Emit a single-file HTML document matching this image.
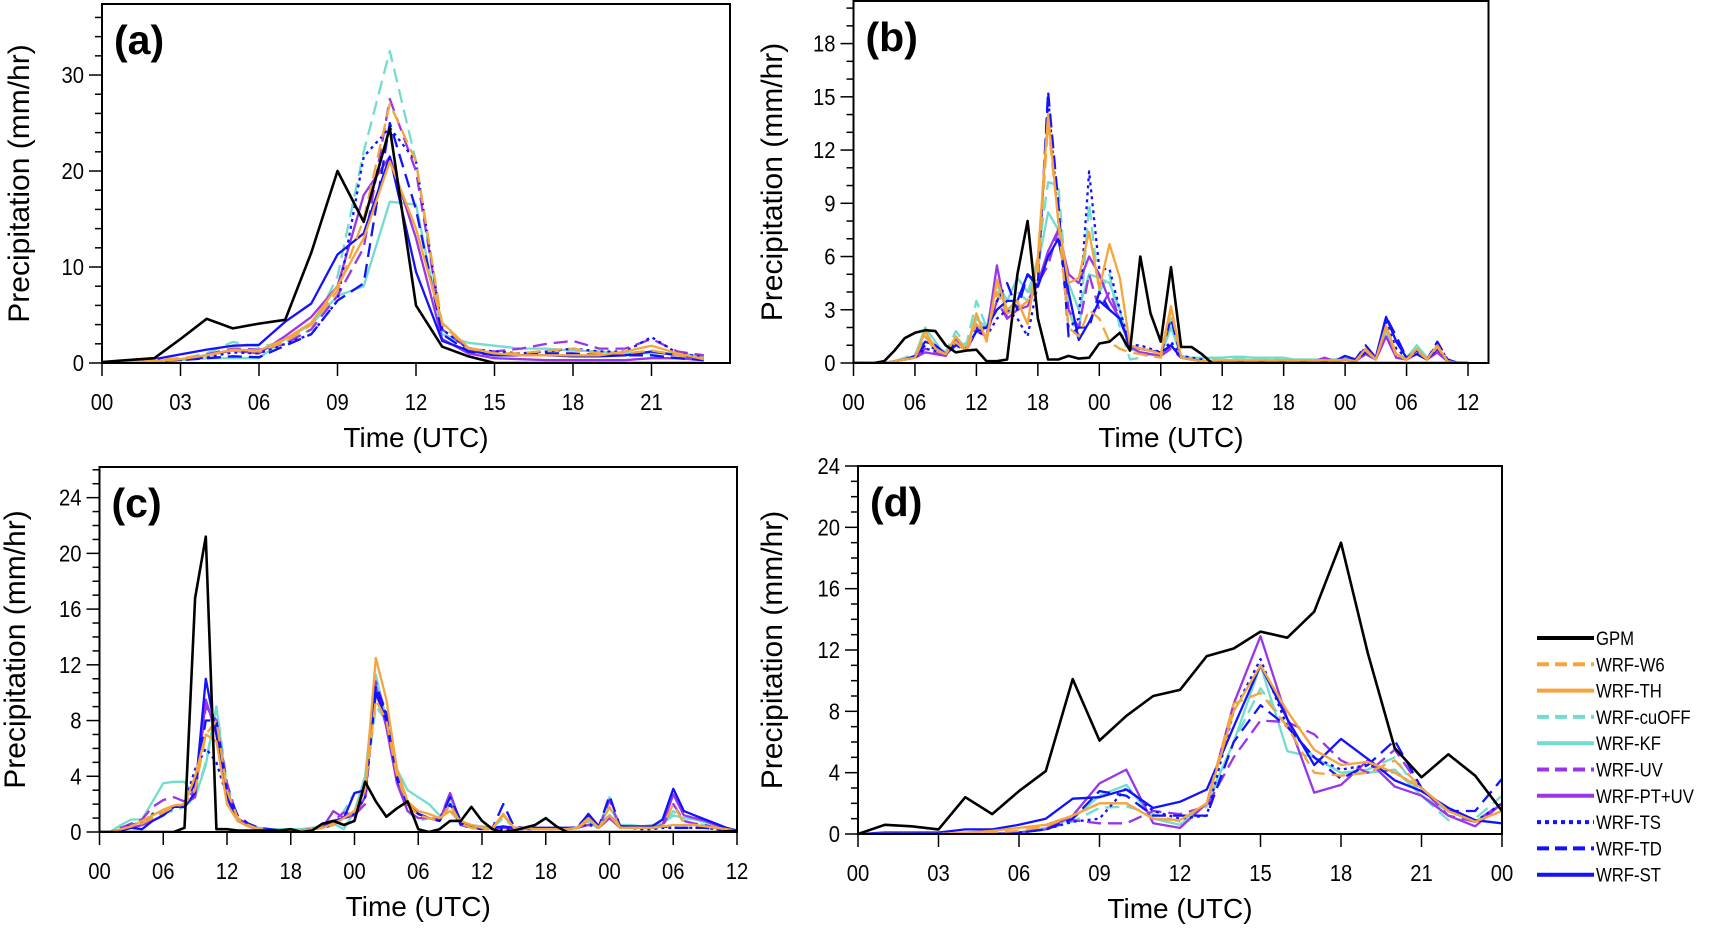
<!DOCTYPE html>
<html><head><meta charset="utf-8"><style>
html,body{margin:0;padding:0;background:#fff;}
svg{display:block;font-family:"Liberation Sans",sans-serif;}
</style></head><body>
<svg id="fig" width="1709" height="928" viewBox="0 0 1709 928" xmlns="http://www.w3.org/2000/svg"></svg>
<script>
// ---------- Panel (a) data (hourly, 0..23) ----------
const aGPM=[0.1,0.3,0.5,2.5,4.6,3.6,4.1,4.5,11.5,20,14.7,24.5,6,1.7,0.7,0,0,0,0,0,0,0,0,0];
const aW6=[0,0.2,0.3,0.5,0.8,1.3,1.2,2.2,4,7.5,15,27,21,4,1.5,1,1,1.3,1.5,1,1,1.3,0.8,0.5];
const aTH=[0,0.1,0.2,0.4,0.8,1.4,1.3,2.5,4.2,8,13,21,14,4.2,1.6,1,0.8,0.8,0.8,0.8,1.2,1.8,1,0.4];
const aCU=[0,0.1,0.2,0.4,1,2.2,1.7,2.2,3.5,9,22,32.5,21,3,1.5,1,1,1.2,1.3,1.2,1,1.2,1,0.6];
const aKF=[0,0.1,0.2,0.3,0.5,0.5,0.5,2.5,4,7,8,16.8,16.5,3,2.1,1.8,1.5,1.5,1.3,1.2,1,1,1,0.7];
const aUV=[0,0.1,0.2,0.4,0.9,1.5,1.4,2,3.5,7,12,27.5,20,3.5,1.5,1.2,1.5,2,2.3,1.5,1.5,2.5,1.2,0.8];
const aPT=[0,0.1,0.2,0.4,0.8,1.3,1.0,2.8,4.8,8,17.5,21.5,13,2.5,1,0.5,0.4,0.3,0.3,0.3,0.3,0.5,0.5,0.3];
const aTS=[0,0.1,0.2,0.3,0.6,1.1,1.0,2,3,6.5,21.5,24.5,21,3.5,1.5,1.2,1,1.2,1.5,1.2,1.2,2.7,1,0.6];
const aTD=[0,0.1,0.2,0.3,0.5,0.7,0.6,1.8,3,6.5,8.3,25,16,3,1.2,0.8,0.8,1,1,0.8,0.8,0.8,0.5,0.3];
const aST=[0,0.2,0.4,0.9,1.4,1.8,1.9,4.3,6.2,11.3,13.5,21.5,9.5,2.3,1.3,0.8,0.8,0.8,0.7,0.7,0.8,1.2,0.8,0.5];
// ---------- Panel (b) data (hourly, 0..60) ----------
const bGPM=[0,0,0,0.1,0.7,1.4,1.7,1.85,1.8,1.0,0.6,0.7,0.75,0.1,0.1,0.2,5,8,2.5,0.2,0.2,0.4,0.25,0.3,1.1,1.2,1.7,0.7,6,2.8,1.2,5.4,0.9,0.9,0.5,0,0,0,0,0,0,0,0,0,0,0,0,0,0,0,0,0,0,0,0,0,0,0,0,0,0];
const bW6=[0,0,0,0,0.1,0.2,0.3,1.5,0.7,0.5,1.2,0.6,2.2,1.5,4,2.8,3,3.5,5,13.5,8,2,1.5,3,2.5,1.2,0.8,0.6,0.5,0.4,0.3,3,0.3,0.2,0.1,0.1,0.1,0.1,0.1,0.1,0.1,0.1,0.1,0.1,0.1,0.1,0.1,0.1,0.2,0.1,0.7,0.2,2,0.4,0.2,0.7,0.2,0.9,0.1,0,0];
const bTH=[0,0,0,0,0.1,0.2,0.3,1.8,0.8,0.5,1.5,0.7,2.8,1.2,4.7,3,3.5,2.2,6,14,8,4.5,4.8,7.4,4.2,6.7,4.8,1,0.8,0.7,0.5,3.2,0.3,0.2,0.1,0.1,0.15,0.15,0.15,0.15,0.15,0.15,0.15,0.15,0.15,0.15,0.15,0.15,0.2,0.1,0.8,0.2,2.1,0.5,0.2,0.8,0.2,1.0,0.1,0,0];
const bCU=[0,0,0,0,0.1,0.3,0.5,1.5,1,0.6,1.8,1,3.5,2,4.5,2.5,4,3.5,6,10.2,10,3,1.3,9,4,5,2,0.2,0.3,0.5,0.4,2.5,0.3,0.2,0.2,0.2,0.3,0.3,0.3,0.3,0.3,0.2,0.2,0.2,0.2,0.2,0.2,0.2,0.3,0.2,0.8,0.3,1.8,0.5,0.3,1.0,0.3,0.8,0.1,0,0];
const bKF=[0,0,0,0,0.1,0.2,0.4,2,1.2,0.4,1.5,0.8,2.5,2,4.6,3.5,4.8,4,5.5,8.5,7.5,4.5,3,5,4.8,4.5,3,0.8,0.6,0.5,0.4,2,0.4,0.3,0.3,0.3,0.3,0.35,0.35,0.3,0.3,0.3,0.3,0.2,0.2,0.2,0.2,0.2,0.3,0.2,0.6,0.3,1.8,0.5,0.3,1.0,0.3,0.7,0.1,0,0];
const bUV=[0,0,0,0,0.1,0.2,0.3,0.8,0.6,0.4,1.2,0.8,2,1.5,3.5,2.5,3,3.5,4.5,5.5,7.5,3,2,5,3,4,2.5,0.8,0.6,0.5,0.4,0.8,0.3,0.2,0.1,0.1,0.1,0.1,0.1,0.1,0.1,0.1,0.1,0.1,0.1,0.1,0.1,0.1,0.2,0.1,0.5,0.2,1.5,0.3,0.2,0.5,0.2,0.6,0.1,0,0];
const bPT=[0,0,0,0,0.1,0.2,0.3,0.6,0.5,0.4,1.3,0.7,1.8,1.5,5.5,2.5,3,3.2,4.5,6.3,7.5,5,4.5,6,5,3.5,2.5,0.9,0.6,0.5,0.4,1,0.3,0.2,0.1,0.1,0.1,0.1,0.1,0.1,0.1,0.1,0.1,0.1,0.1,0.1,0.3,0.1,0.2,0.1,0.5,0.2,1.5,0.3,0.2,0.5,0.2,0.6,0.1,0,0];
const bTS=[0,0,0,0,0.1,0.2,0.3,0.8,0.7,0.5,1,0.7,1.8,1.5,2.5,3,2.5,1.5,4.5,15,8,2,2.5,10.8,5.3,5.3,3,1,1,0.8,0.6,1.2,0.4,0.3,0.2,0.1,0.1,0.1,0.1,0.1,0.1,0.1,0.1,0.1,0.1,0.1,0.1,0.1,0.2,0.1,0.9,0.3,2.3,0.8,0.3,0.6,0.2,1.1,0.2,0,0];
const bTD=[0,0,0,0,0.1,0.2,0.4,1,0.8,0.5,1.2,0.8,2,2,3.5,4.5,3,5,4.5,15.3,9,1.5,2,2,4,3,2.5,0.9,0.8,0.7,0.5,2.5,0.3,0.2,0.1,0.1,0.1,0.1,0.1,0.1,0.1,0.1,0.1,0.1,0.1,0.1,0.1,0.1,0.4,0.2,1,0.3,2.6,1.5,0.3,0.7,0.2,1.2,0.2,0,0];
const bST=[0,0,0,0,0.1,0.2,0.4,1.2,1,0.5,1,0.8,1.8,2,3,3.5,3.5,5,4.3,6,7,4,1.3,2.3,3.5,3,2.5,1,0.8,0.7,0.6,1,0.3,0.2,0.1,0.1,0.1,0.1,0.1,0.1,0.1,0.1,0.1,0.1,0.1,0.1,0.1,0.1,0.4,0.2,0.6,0.3,2.6,1.2,0.3,0.5,0.2,0.8,0.2,0,0];
// ---------- Panel (c) data (hourly, 0..60) ----------
const cGPM=[0,0,0,0,0,0,0,0,0.3,16.8,21.2,0.2,0.2,0.1,0.1,0.1,0.1,0.1,0.2,0,0.1,0.6,0.8,0.5,0.8,3.6,2.2,1.1,1.7,2.2,0.2,0,0.2,0.8,0.8,1.8,0.8,0.2,0,0.1,0.3,0.5,1.0,0.4,0,0,0,0,0,0,0,0,0,0,0,0,0,0,0,0.05,0.1];
const cW6=[0,0,0.2,0.4,0.6,1,1.4,1.8,2,3,7,8,3,1,0.5,0.2,0.1,0.1,0.1,0.1,0.2,0.3,0.5,1,1.5,3,9.5,8,4,2,1.2,1,0.8,2,0.6,0.3,0.2,0.2,1.2,0.3,0.2,0.2,0.2,0.2,0.2,0.3,0.8,0.3,1.8,0.3,0.3,0.3,0.3,0.4,2,0.6,0.5,0.4,0.3,0.2,0.1];
const cTH=[0,0,0.2,0.4,0.8,1.2,1.6,1.9,2,4,7,6.5,2,0.8,0.4,0.2,0.1,0.1,0.1,0.1,0.2,0.3,0.6,1,1.5,3.2,12.5,9.5,4.5,2.2,1.5,1.3,1,1.5,0.8,0.5,0.3,0.3,1.3,0.3,0.3,0.2,0.2,0.2,0.2,0.3,1,0.3,1.2,0.3,0.3,0.3,0.3,0.4,0.5,0.5,0.5,0.4,0.3,0.2,0.1];
const cCU=[0,0,0.3,0.6,0.8,1.2,1.4,1.5,1.8,2.5,5,9,3.5,1,0.5,0.2,0.1,0.1,0.1,0.1,0.2,0.3,0.6,1.5,2.8,3,9,8,3.5,1.5,0.8,1,0.8,2.5,0.5,0.4,0.3,0.3,1,0.3,0.2,0.2,0.2,0.2,0.2,0.3,0.6,0.3,2.5,0.4,0.4,0.3,0.3,0.4,1.5,0.8,0.6,0.5,0.3,0.2,0.1];
const cKF=[0,0,0.5,0.9,0.9,2.2,3.5,3.6,3.6,2.5,4.8,9,3,1,0.5,0.3,0.2,0.2,0.2,0.2,0.3,0.4,0.6,0.2,1.5,4,11.3,8,4.5,3,2.5,2,1.2,1.5,0.6,0.5,0.4,0.3,0.3,0.3,0.3,0.2,0.2,0.2,0.3,0.3,0.8,0.4,1.8,0.5,0.5,0.4,0.5,0.6,1.2,1,0.9,0.7,0.5,0.3,0.1];
const cUV=[0,0,0.3,0.6,0.9,1.8,2.3,2.5,2.2,3,9,8,3.5,1,0.5,0.2,0.1,0.1,0.1,0.1,0.2,0.3,0.8,1.4,1.2,2,10.8,8.5,3.5,1.8,1.3,1,0.9,2.8,0.5,0.3,0.2,0.2,0.4,0.2,0.2,0.2,0.2,0.2,0.2,0.3,0.5,0.3,2.3,0.3,0.3,0.3,0.3,0.4,2,0.8,0.6,0.5,0.3,0.2,0.1];
const cPT=[0,0,0.1,0.3,0.5,0.8,1.2,1.8,2,2.5,9.5,7,3,1,0.5,0.2,0.1,0.1,0.1,0.1,0.2,0.3,1.5,1,1.2,2.5,10.5,7.5,3.5,1.5,1,1,0.8,2.8,0.6,0.4,0.3,0.3,0.3,0.2,0.2,0.2,0.2,0.2,0.2,0.3,1.2,0.3,1,0.3,0.3,0.3,0.3,0.5,2.7,1.2,1,0.8,0.5,0.3,0.1];
const cTS=[0,0,0.2,0.5,0.7,1.3,1.5,1.8,2,4.5,6,5,2.5,0.8,0.4,0.2,0.1,0.1,0.1,0.1,0.2,0.3,0.5,1,1.3,2.5,10,8.5,4,2,1.3,1,0.8,2,0.5,0.3,0.2,0.2,0.2,0.2,0.2,0.2,0.2,0.2,0.2,0.3,0.6,0.3,1.2,0.3,0.3,0.2,0.2,0.3,0.3,0.3,0.3,0.3,0.2,0.2,0.1];
const cTD=[0,0,0.2,0.4,0.6,1,1.3,1.7,2,3.5,8,8,3,1.2,0.6,0.3,0.2,0.1,0.1,0.1,0.2,0.3,0.6,1,1.5,3,10.5,8.5,3.8,2,1.3,1,0.8,2.5,0.8,0.4,0.3,0.3,2,0.4,0.3,0.2,0.2,0.2,0.2,0.4,1.2,0.4,2.6,0.4,0.4,0.3,0.3,0.4,0.3,0.3,0.3,0.3,0.2,0.2,0.1];
const cST=[0,0,0.1,0.3,0.2,0.8,1.2,1.8,1.8,2.8,11,7,2.5,0.8,0.4,0.2,0.1,0.1,0.1,0.1,0.2,0.3,0.8,1,2.8,3,10,8,4,2,1.3,1,0.8,2,0.6,0.4,0.3,0.3,0.4,0.3,0.3,0.3,0.3,0.3,0.3,0.3,1.3,0.4,1.2,0.4,0.4,0.4,0.4,0.9,3.1,1.5,1.2,0.9,0.6,0.3,0.1];
// ---------- Panel (d) data (hourly, 0..24) ----------
const dGPM=[0,0.6,0.5,0.3,2.4,1.3,2.8,4.1,10.1,6.1,7.7,9,9.4,11.6,12.1,13.2,12.8,14.5,19,11.8,5.6,3.7,5.2,3.8,1.5];
const dW6=[0,0,0,0,0,0.1,0.2,0.5,1.2,2,2,1,0.9,2,8.5,9.2,7,4,3.8,4,4.8,3,1.5,0.8,1.5];
const dTH=[0,0,0,0,0.1,0.2,0.4,0.6,1.2,2,2,1,0.9,2,8,11,8,5.5,4.5,4.7,4,3,1.5,0.8,1.5];
const dCU=[0,0,0,0,0,0,0.1,0.3,0.8,1.7,1.8,1.3,0.8,1.8,6,9.5,7,5,4,4.2,5,2.5,0.9,1,2.5];
const dKF=[0,0,0,0,0,0,0.1,0.4,1,2.5,3.2,1,0.6,2,6,11,5.4,5,4,4,4.2,2.5,1.5,0.8,2];
const dUV=[0,0,0,0,0,0,0.1,0.3,0.9,0.7,0.7,1.5,1.3,1.8,5,7.4,7.3,6.5,4.8,4,5.5,3,1.2,0.8,2];
const dPT=[0,0,0,0,0,0,0.1,0.3,1.2,3.3,4.2,0.7,0.4,2,8.5,12.9,7.5,2.7,3.2,4.8,3.1,2.5,1.2,0.5,2];
const dTS=[0,0,0,0,0,0,0.1,0.3,0.8,1,3,1.5,1,1.2,8,11.4,7,5,4.2,4.5,4,3,1.5,0.8,2];
const dTD=[0,0,0,0,0,0,0.1,0.3,1,2.8,2.5,1.2,1.2,1.2,6,8.4,7,5,3.6,4.5,6.1,3,1.5,1.5,3.6];
const dST=[0,0.1,0.1,0.1,0.3,0.3,0.6,1,2.3,2.4,2.9,1.7,2.1,2.9,7,11,7.5,4.5,6.2,4.9,3.5,2.8,1.7,0.9,0.7];
// ---------- Tick labels ----------
const aXTickLabels=["00","03","06","09","12","15","18","21"];
const bXTickLabels=["00","06","12","18","00","06","12","18","00","06","12"];
const dXTickLabels=["00","03","06","09","12","15","18","21","00"];
const aYTicks=[0,10,20,30];
const bYTicks=[0,3,6,9,12,15,18];
const cYTicks=[0,4,8,12,16,20,24];
const dYTicks=[0,4,8,12,16,20,24];
const seriesNames=["GPM","WRF-W6","WRF-TH","WRF-cuOFF","WRF-KF","WRF-UV","WRF-PT+UV","WRF-TS","WRF-TD","WRF-ST"];

const NS="http://www.w3.org/2000/svg";
const svg=document.getElementById('fig');
function mk(tag,attrs,parent){const e=document.createElementNS(NS,tag);for(const k in attrs)e.setAttribute(k,attrs[k]);(parent||svg).appendChild(e);return e;}
const styles=[
 {c:"#000000",d:""},{c:"#f5a53c",d:"14,7"},{c:"#f5a53c",d:""},{c:"#72dccd",d:"14,7"},{c:"#72dccd",d:""},
 {c:"#9a35e8",d:"14,7"},{c:"#9a35e8",d:""},{c:"#1212ff",d:"3,4"},{c:"#1212ff",d:"14,7"},{c:"#1212ff",d:""}];
const drawOrder=[4,3,6,5,9,8,7,1,2,0];

function panel(p){
  const g=mk('g',{});
  
  
  const sx=v=>p.x0+(v/p.xmax)*(p.x1-p.x0);
  const sy=v=>p.y1-(v/p.ymax)*(p.y1-p.y0);
  const sg=mk('g',{},g);
  
  
  const clip=mk('clipPath',{id:'clip'+p.id},g);
  mk('rect',{x:p.x0,y:p.y0,width:p.x1-p.x0,height:p.y1-p.y0},clip);
  sg.setAttribute('clip-path','url(#clip'+p.id+')');
  drawOrder.forEach(i=>{
    const arr=p.series[i];
    const pts=arr.map((v,k)=>sx(k).toFixed(1)+','+sy(v).toFixed(1)).join(' ');
    const pl=mk('polyline',{points:pts,fill:'none',stroke:styles[i].c,'stroke-width':i==0?2.6:2.3,'stroke-linejoin':'round','stroke-dasharray':styles[i].d},sg);
    
    
  });
  const fr=mk('rect',{x:p.x0,y:p.y0,width:p.x1-p.x0,height:p.y1-p.y0,fill:'none',stroke:'#000','stroke-width':2},g);
  
  
  for(let v=0;v<=p.ymax+1e-6;v+=p.yminor){
    const major=p.yticks.some(t=>Math.abs(t-v)<1e-6);
    mk('line',{x1:p.x0,x2:p.x0-(major?13:7),y1:sy(v),y2:sy(v),stroke:'#000','stroke-width':1.5},g);
  }
  p.yticks.forEach(v=>{
    const t=mk('text',{x:p.x0-18,y:sy(v)+8,'text-anchor':'end','font-size':23,fill:'#000',transform:`translate(${p.x0-18},0) scale(0.88,1) translate(${-(p.x0-18)},0)`},g);
    t.textContent=String(v);
    
    
  });
  p.xlabels.forEach((lab,k)=>{
    const x=sx(k*p.xstep);
    mk('line',{x1:x,x2:x,y1:p.y1,y2:p.y1+13,stroke:'#000','stroke-width':1.5},g);
    const t=mk('text',{x:x,y:p.y1+47,'text-anchor':'middle','font-size':23,fill:'#000',transform:`translate(${x},0) scale(0.88,1) translate(${-x},0)`},g);
    t.textContent=lab;
    
    
  });
  const xt=mk('text',{x:(p.x0+p.x1)/2,y:p.y1+84,'text-anchor':'middle','font-size':28,fill:'#000'},g);
  xt.textContent='Time (UTC)';
  
  
  const yc=(p.y0+p.y1)/2;
  const yt=mk('text',{x:0,y:0,'text-anchor':'middle','font-size':30,fill:'#000',transform:`translate(${p.ytx},${yc}) rotate(-90)`},g);
  yt.textContent='Precipitation (mm/hr)';
  
  
  const pl=mk('text',{x:p.x0+12,y:p.y0+50,'font-size':41,'font-weight':'bold',fill:'#000'},g);
  pl.textContent='('+p.id+')';
  
  
}

panel({id:'a',x0:102,x1:730,y0:4,y1:363,xmax:24,ymax:37.4,yticks:aYTicks,yminor:2,xstep:3,xlabels:aXTickLabels,ytx:29,
 series:[aGPM,aW6,aTH,aCU,aKF,aUV,aPT,aTS,aTD,aST]});
panel({id:'b',x0:853.5,x1:1488.5,y0:1,y1:363,xmax:62,ymax:20.4,yticks:bYTicks,yminor:1,xstep:6,xlabels:bXTickLabels,ytx:782,
 series:[bGPM,bW6,bTH,bCU,bKF,bUV,bPT,bTS,bTD,bST]});
panel({id:'c',x0:99.5,x1:737,y0:467,y1:832,xmax:60,ymax:26.2,yticks:cYTicks,yminor:1,xstep:6,xlabels:bXTickLabels,ytx:25,
 series:[cGPM,cW6,cTH,cCU,cKF,cUV,cPT,cTS,cTD,cST]});
panel({id:'d',x0:858,x1:1502,y0:466,y1:834,xmax:24,ymax:24,yticks:dYTicks,yminor:1,xstep:3,xlabels:dXTickLabels,ytx:782,
 series:[dGPM,dW6,dTH,dCU,dKF,dUV,dPT,dTS,dTD,dST]});

const lg=mk('g',{});


seriesNames.forEach((n,i)=>{
  const y=638+i*26.3;
  const e=mk('g',{},lg);
  
  
  mk('line',{x1:1537,x2:1594,y1:y,y2:y,stroke:styles[i].c,'stroke-width':4,'stroke-dasharray':styles[i].d==''?'':(i==7?'4,4':'12,6')},e);
  const t=mk('text',{x:1596,y:y+7,'font-size':19,fill:'#000',transform:`translate(1596,0) scale(0.88,1) translate(-1596,0)`},e);
  t.textContent=n;
});
</script>
</body></html>
